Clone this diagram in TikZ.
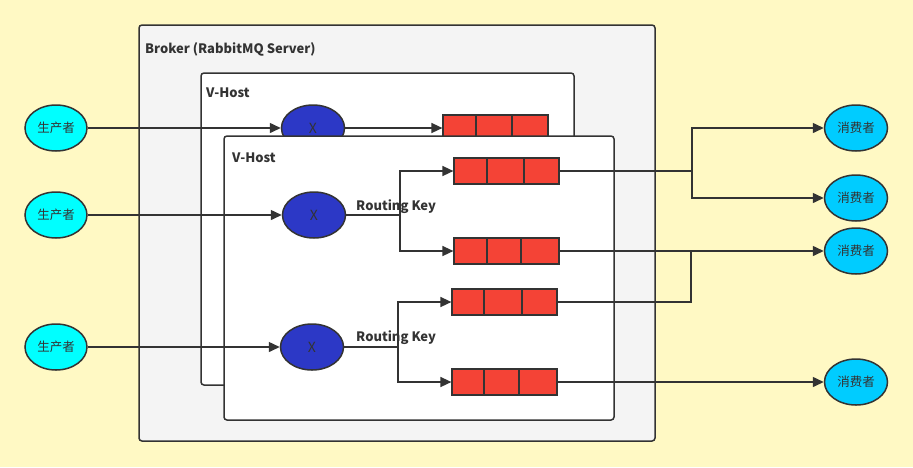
\documentclass[tikz,border=0pt]{standalone}
\usepackage{fontspec}
\setmainfont{Noto Sans CJK SC}
\usepackage{tikz}
\usetikzlibrary{shapes.geometric, arrows.meta}

\definecolor{bgyellow}{HTML}{FFF9C4}
\definecolor{brokergray}{HTML}{F4F4F4}
\definecolor{linegray}{HTML}{333333}
\definecolor{prodcyan}{HTML}{00FFFF}
\definecolor{conscyan}{HTML}{00CCFF}
\definecolor{exblue}{HTML}{2C38C6}
\definecolor{qred}{HTML}{F44336}

\tikzset{
  box/.style={draw=linegray, line width=1.5pt, rounded corners=3pt},
  boxlabel/.style={anchor=west, inner sep=0pt, text=linegray, font=\fontsize{13}{15}\selectfont\bfseries},
  producer/.style={ellipse, draw=linegray, line width=1.5pt, fill=prodcyan, minimum width=62pt, minimum height=46pt, inner sep=0pt, text=linegray, font=\fontsize{12.5}{14}\selectfont},
  consumer/.style={producer, fill=conscyan, minimum width=63pt},
  exchange/.style={ellipse, draw=linegray, line width=1.5pt, fill=exblue, minimum width=63pt, minimum height=46pt, inner sep=0pt, text=linegray, font=\fontsize{14}{16}\selectfont},
  qcell/.style={draw=linegray, line width=1.2pt, fill=qred, minimum height=26pt, inner sep=0pt},
  line/.style={draw=linegray, line width=1.5pt},
  link/.style={line, -{Triangle[length=11pt, width=10pt]}},
}

\begin{document}
\begin{tikzpicture}[x=1pt, y=-1pt]
    % Hintergrund
    \fill[bgyellow] (0,0) rectangle (913,467);
    \useasboundingbox (0,0) rectangle (913,467);

    % Broker
    \draw[box, fill=brokergray] (139,25) rectangle (655,441);
    \node[boxlabel] (brokerlbl) at (145,49) {Broker (RabbitMQ Server)};

    % V-Host hinten
    \draw[box, fill=white] (201,73) rectangle (574,385);
    \node[boxlabel] (vh1lbl) at (206,93) {V-Host};
    \node[exchange] (ex1) at (313,128) {X};
    \foreach \n/\xa/\xb/\xc/\xd/\yc in {qz/443/476/512/548/128} {
        \node[qcell, minimum width={(\xb-\xa)*1pt}] (\n-1) at ({(\xa+\xb)/2},\yc) {};
        \node[qcell, minimum width={(\xc-\xb)*1pt}] (\n-2) at ({(\xb+\xc)/2},\yc) {};
        \node[qcell, minimum width={(\xd-\xc)*1pt}] (\n-3) at ({(\xc+\xd)/2},\yc) {};
    }

    % Produzenten
    \node[producer] (p1) at (56,128) {生产者};
    \node[producer] (p2) at (56,215) {生产者};
    \node[producer] (p3) at (56,347) {生产者};
    \draw[link] (p1.east) -- (ex1.west);
    \draw[link] (ex1.east) -- (qz-1.west);

    % V-Host vorne
    \draw[box, fill=white] (224,136) rectangle (614,420);
    \node[boxlabel] (vh2lbl) at (232,158) {V-Host};
    \node[exchange] (ex2) at (314,215) {X};
    \node[exchange] (ex3) at (312,347) {X};

    % Queues
    \foreach \n/\xa/\xb/\xc/\xd/\yc in {qa/454/487/524/559/171, qb/454/487/521/559/251,
                                        qc/452/484/522/557/302, qd/452/484/519/557/382} {
        \node[qcell, minimum width={(\xb-\xa)*1pt}] (\n-1) at ({(\xa+\xb)/2},\yc) {};
        \node[qcell, minimum width={(\xc-\xb)*1pt}] (\n-2) at ({(\xb+\xc)/2},\yc) {};
        \node[qcell, minimum width={(\xd-\xc)*1pt}] (\n-3) at ({(\xc+\xd)/2},\yc) {};
    }

    % Konsumenten
    \node[consumer] (c1) at (856,128) {消费者};
    \node[consumer] (c2) at (856,198) {消费者};
    \node[consumer] (c3) at (856,251) {消费者};
    \node[consumer] (c4) at (856,382) {消费者};

    % Routing
    \draw[link] (p2.east) -- (ex2.west);
    \draw[link] (p3.east) -- (ex3.west);
    \coordinate (rk1) at (400,215);
    \coordinate (rk2) at (398,347);
    \draw[line] (ex2.east) -- (rk1);
    \draw[link] (rk1) |- (qa-1.west);
    \draw[link] (rk1) |- (qb-1.west);
    \draw[line] (ex3.east) -- (rk2);
    \draw[link] (rk2) |- (qc-1.west);
    \draw[link] (rk2) |- (qd-1.west);
    \node[boxlabel] (rk1lbl) at (356,207) {Routing Key};
    \node[boxlabel] (rk2lbl) at (356,338) {Routing Key};

    % Queue -> Konsument
    \coordinate (ja) at (692,171);
    \coordinate (jc) at (691,251);
    \draw[line] (qa-3.east) -- (ja);
    \draw[link] (ja) |- (c1.west);
    \draw[link] (ja) |- (c2.west);
    \draw[link] (qb-3.east) -- (c3.west);
    \draw[line] (qc-3.east) -| (jc);
    \draw[link] (qd-3.east) -- (c4.west);
\end{tikzpicture}
\end{document}
